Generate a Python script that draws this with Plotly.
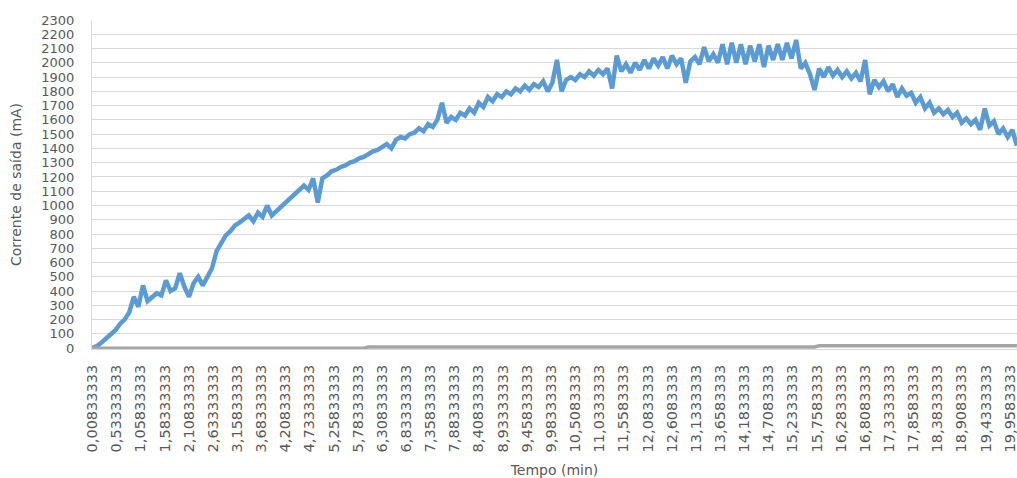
import plotly.graph_objects as go

# Output current (mA), one reading every 0.1 min starting at 0.00833333 min
START_MIN = 0.00833333
STEP_MIN = 0.1
corrente_saida = [
    0, 15, 40, 70, 100, 125, 170, 200, 250, 360,
    290, 440, 330, 360, 385, 370, 475, 400, 420, 525,
    430, 360, 455, 500, 440, 500, 560, 680, 730, 790,
    820, 860, 880, 910, 930, 890, 950, 920, 1000, 930,
    960, 990, 1010, 1050, 1080, 1100, 1140, 1110, 1190, 1020,
    1190, 1210, 1240, 1250, 1270, 1280, 1300, 1310, 1330, 1340,
    1360, 1380, 1390, 1410, 1430, 1400, 1460, 1480, 1470, 1500,
    1510, 1540, 1520, 1570, 1550, 1600, 1720, 1580, 1620, 1600,
    1650, 1630, 1680, 1650, 1720, 1690, 1760, 1730, 1780, 1760,
    1800, 1780, 1820, 1800, 1840, 1810, 1850, 1830, 1870, 1800,
    1860, 2020, 1800, 1880, 1900, 1880, 1920, 1900, 1940, 1910,
    1950, 1920, 1960, 1820, 2050, 1940, 1990, 1930, 2000, 1950,
    2020, 1960, 2030, 1980, 2040, 1960, 2050, 1990, 2030, 1860,
    2010, 2040, 1990, 2110, 2010, 2060, 2000, 2130, 1990, 2140,
    2000, 2130, 1990, 2120, 2010, 2130, 1970, 2120, 2020, 2130,
    2020, 2140, 2030, 2160, 1960, 2000, 1920, 1810, 1960, 1900,
    1970, 1910, 1950, 1900, 1940, 1890, 1930, 1870, 2020, 1780,
    1880, 1830, 1870, 1800, 1850, 1760, 1820, 1770, 1790, 1720,
    1760, 1680, 1720, 1650, 1680, 1640, 1670, 1620, 1650, 1580,
    1610, 1570, 1600, 1530, 1680, 1560, 1590, 1500, 1540, 1480,
    1530, 1420,
]
# Second (grey) series, near zero with two small steps
serie_cinza = [0] * 60 + [8] * 98 + [16] * 44

tick_labels = [
    "0,00833333", "0,53333333", "1,05833333", "1,58333333", "2,10833333",
    "2,63333333", "3,15833333", "3,68333333", "4,20833333", "4,73333333",
    "5,25833333", "5,78333333", "6,30833333", "6,83333333", "7,35833333",
    "7,88333333", "8,40833333", "8,93333333", "9,45833333", "9,98333333",
    "10,5083333", "11,0333333", "11,5583333", "12,0833333", "12,6083333",
    "13,1333333", "13,6583333", "14,1833333", "14,7083333", "15,2333333",
    "15,7583333", "16,2833333", "16,8083333", "17,3333333", "17,8583333",
    "18,3833333", "18,9083333", "19,4333333", "19,9583333",
]
tick_vals = [float(s.replace(",", ".")) for s in tick_labels]

y_ticks = list(range(0, 2301, 100))

tempo = [START_MIN + STEP_MIN * i for i in range(len(corrente_saida))]

fig = go.Figure()
fig.add_trace(go.Scatter(
    x=tempo, y=corrente_saida, mode="lines",
    line=dict(color="#5B9BD5", width=4.5),
    showlegend=False, hoverinfo="skip",
))
fig.add_trace(go.Scatter(
    x=tempo, y=serie_cinza, mode="lines",
    line=dict(color="#A5A5A5", width=3.5),
    showlegend=False, hoverinfo="skip",
))

fig.update_layout(
    width=1017, height=478,
    margin=dict(l=92, r=0, t=20, b=129),
    paper_bgcolor="white", plot_bgcolor="white",
    font=dict(family="DejaVu Sans", color="#595959"),
    xaxis=dict(
        range=[0.0, 20.11],
        tickmode="array", tickvals=tick_vals, ticktext=tick_labels,
        tickangle=-90, tickfont=dict(size=14.5, color="#595959"),
        ticklabeloverflow="allow",
        showgrid=False, zeroline=False,
        showline=True, linecolor="#D9D9D9", linewidth=1,
        ticks="", ticklabelstandoff=9,
        title=dict(text="Tempo (min)", font=dict(size=14, color="#595959"), standoff=14),
    ),
    yaxis=dict(
        range=[-6, 2300], tickmode="array", tickvals=y_ticks,
        tickfont=dict(size=13, color="#595959"),
        showgrid=True, gridcolor="#D9D9D9", gridwidth=1,
        zeroline=False, showline=True, linecolor="#D9D9D9", linewidth=1,
        ticks="", ticklabelstandoff=14,
        title=dict(text="Corrente de saída (mA)", font=dict(size=14, color="#595959"), standoff=16),
    ),
)

fig.write_html("out.html")
